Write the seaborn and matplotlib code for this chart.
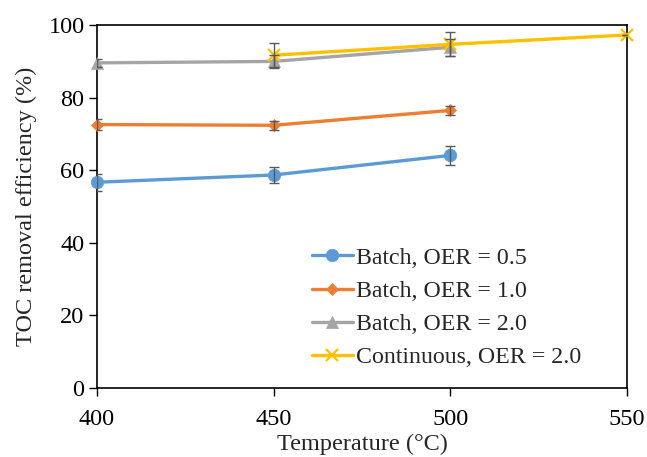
import numpy as np
import pandas as pd
import matplotlib
matplotlib.use("Agg")
import matplotlib.pyplot as plt
import seaborn as sns

temps_batch = [400, 450, 500]
temps_cont = [450, 500, 550]

oer05 = [56.7, 58.7, 64.1]
oer05_err = [2.4, 2.3, 2.6]
oer10 = [72.6, 72.4, 76.5]
oer10_err = [1.4, 1.3, 1.3]
oer20 = [89.6, 90.0, 93.9]
oer20_err = [1.0, 1.7, 2.4]
cont20 = [91.7, 94.7, 97.3]
cont20_err = [3.3, 3.3, 0.0]

labels = ["Batch, OER = 0.5", "Batch, OER = 1.0", "Batch, OER = 2.0", "Continuous, OER = 2.0"]
colors = ["#5B9BD5", "#ED7D31", "#A5A5A5", "#FFC000"]
markers = ["o", "D", "^", "x"]
msizes = [9, 6.5, 8.5, 8]

series = [
    (temps_batch, oer05, oer05_err),
    (temps_batch, oer10, oer10_err),
    (temps_batch, oer20, oer20_err),
    (temps_cont, cont20, cont20_err),
]

rows = []
for lab, (xs, ys, es) in zip(labels, series):
    for x, y, e in zip(xs, ys, es):
        rows.append({"Temperature": x, "TOC": y, "err": e, "Series": lab})
df = pd.DataFrame(rows)

sns.set_style("white")
plt.rcParams["font.family"] = ["Liberation Serif", "DejaVu Serif"]

fig = plt.figure(figsize=(6.47, 4.57), dpi=100)
ax = fig.add_axes([0.150, 0.151, 0.819, 0.794])

for lab, c, m, ms in zip(labels, colors, markers, msizes):
    d = df[df["Series"] == lab]
    sns.lineplot(data=d, x="Temperature", y="TOC", ax=ax, color=c, marker=m,
                 markersize=ms, markeredgecolor=c, markeredgewidth=1.6 if m == "x" else 0.5,
                 linewidth=2.4, label=lab, zorder=3, clip_on=False)
    # error bars on top, dark grey like the original
    ax.errorbar(d["Temperature"], d["TOC"], yerr=d["err"], fmt="none",
                ecolor="#595959", elinewidth=1.0, capsize=3.5, capthick=1.0, zorder=4)

ax.set_xlim(400, 550)
ax.set_ylim(0, 100)
ax.set_xticks([400, 450, 500, 550])
ax.set_yticks([0, 20, 40, 60, 80, 100])
ax.tick_params(axis="both", which="both", direction="out", length=6, width=1,
               labelsize=17.5, colors="black", bottom=True, left=True, top=False, right=False, pad=3)
ax.tick_params(axis="x", pad=9)
for sp in ax.spines.values():
    sp.set_color("black")
    sp.set_linewidth(1.2)

ax.set_xlabel("Temperature (\u00b0C)", fontsize=17.5, labelpad=3)
ax.set_ylabel("TOC removal efficiency (%)", fontsize=17.5, labelpad=8)

ax.legend(loc="lower right", bbox_to_anchor=(0.946, 0.008), frameon=False, fontsize=17.2,
          handlelength=1.7, handletextpad=0.15, labelspacing=0.48, borderpad=0.2)

fig.savefig("out.png", dpi=100)
